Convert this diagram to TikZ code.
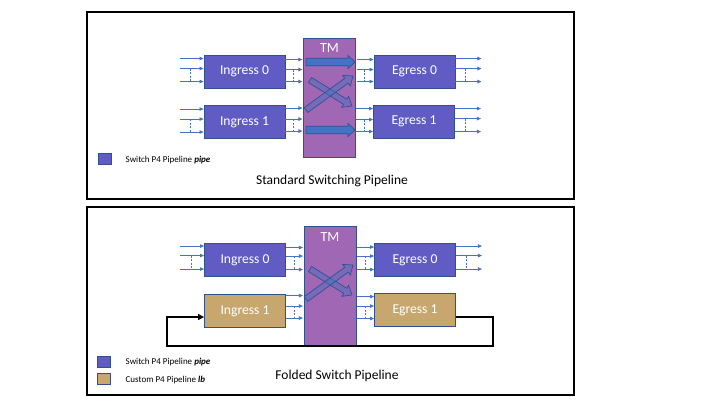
\documentclass[tikz,border=0pt]{standalone}
\usepackage{fontspec}
\setmainfont{Carlito}
\usetikzlibrary{calc,arrows.meta}
\definecolor{pipeblue}{RGB}{96,92,196}
\definecolor{boxborder}{RGB}{47,82,143}
\definecolor{tmpurple}{RGB}{160,103,180}
\definecolor{lbtan}{RGB}{200,167,110}
\definecolor{portblue}{RGB}{68,114,196}

\tikzset{
  pipebox/.style={draw=boxborder, line width=0.9pt, fill=pipeblue, minimum width=81pt, minimum height=33pt, inner sep=0pt, text=white, font=\fontsize{13.6}{15}\selectfont},
  lbbox/.style={pipebox, fill=lbtan},
  tmbox/.style={draw=boxborder, line width=0.9pt, fill=tmpurple, minimum width=52pt, minimum height=119pt, inner sep=0pt},
  panel/.style={draw=black, line width=2pt},
  portarrow/.style={draw=portblue, line width=0.7pt, -{Triangle[length=4pt,width=3.5pt]}},
  portdash/.style={draw=portblue, line width=0.6pt, dash pattern=on 2pt off 1.5pt},
  solidblk/.style={draw=boxborder, line width=0.7pt, fill=portblue},
  hollowblk/.style={draw=boxborder, line width=0.7pt, fill=portblue, fill opacity=0.45},
  loopline/.style={draw=black, line width=1.8pt, -{Triangle[length=6pt,width=6pt]}},
  legendtext/.style={font=\fontsize{9}{10}\selectfont, anchor=west, inner sep=0pt},
  captiontext/.style={font=\fontsize{13.5}{16}\selectfont, inner sep=0pt},
  tmlabel/.style={text=white, font=\fontsize{14}{16}\selectfont, inner sep=0pt},
  swatch/.style={draw=boxborder, line width=0.8pt, minimum width=13.5pt, minimum height=11pt, inner sep=0pt},
}

% inputs ending at the west side of node #1: length #2, dash x offset #3, offsets #4 #5 #6 from top
\newcommand{\portsin}[6]{%
  \foreach \o in {#4,#5,#6} {\draw[portarrow] ($(#1.north west)+(-#2,\o)$) -- ($(#1.north west)+(0,\o)$);}
  \draw[portdash] ($(#1.north west)+(#3,#5)$) -- ($(#1.north west)+(#3,#6)$);
}
% outputs starting at the east side of node #1
\newcommand{\portsout}[6]{%
  \foreach \o in {#4,#5,#6} {\draw[portarrow] ($(#1.north east)+(0,\o)$) -- ($(#1.north east)+(#2,\o)$);}
  \draw[portdash] ($(#1.north east)+(#3,#5)$) -- ($(#1.north east)+(#3,#6)$);
}
% block arrow: #1 style, #2 tail, #3 tip, #4 half shaft, #5 half head, #6 head length
\newcommand{\blockarrow}[6]{%
  \coordinate (ba-c) at ($(#3)!#6!(#2)$);
  \path[#1] ($(#2)!#4!90:(#3)$) -- ($(ba-c)!#4!90:(#3)$) -- ($(ba-c)!#5!90:(#3)$) -- (#3)
    -- ($(ba-c)!#5!-90:(#3)$) -- ($(ba-c)!#4!-90:(#3)$) -- ($(#2)!#4!-90:(#3)$) -- cycle;
}

\begin{document}
\begin{tikzpicture}[x=1pt,y=-1pt]
\useasboundingbox (0,0) rectangle (720,405);
\fill[white] (0,0) rectangle (720,405);

% ---------------- top panel ----------------
\draw[panel] (87,12) rectangle (574,199);

\node[tmbox] (tm) at (329.5,97.5) {};
\node[tmlabel] (tmlab) at (329.5,48.5) {TM};
\node[pipebox] (ing0) at (244.5,71.5) {Ingress 0};
\node[pipebox] (ing1) at (244.5,122) {Ingress 1};
\node[pipebox] (eg0) at (414.5,71.5) {Egress 0};
\node[pipebox] (eg1) at (414,121.5) {Egress 1};

\portsin{ing0}{24}{-13}{4}{14}{27}
\portsout{ing0}{17}{8}{5}{15}{27}
\portsin{eg0}{17}{-9}{5}{15}{27}
\portsout{eg0}{26}{10}{4}{14}{27}
\portsin{ing1}{24}{-13}{4}{14}{27}
\portsout{ing1}{17}{8}{3}{14}{26}
\portsin{eg1}{17}{-9}{4}{15}{27}
\portsout{eg1}{26}{10}{4}{14}{27}

\coordinate (s1a) at (306,62);  \coordinate (s1b) at (355,62);
\coordinate (s2a) at (306,130); \coordinate (s2b) at (355,130);
\coordinate (c1a) at (306,110); \coordinate (c1b) at (353,76);
\coordinate (c2a) at (310,80);  \coordinate (c2b) at (352,106);
\blockarrow{solidblk}{s1a}{s1b}{3.8pt}{6.5pt}{7pt}
\blockarrow{solidblk}{s2a}{s2b}{3.8pt}{6.5pt}{7pt}
\blockarrow{hollowblk}{c2a}{c2b}{3pt}{6.5pt}{8pt}
\blockarrow{hollowblk}{c1a}{c1b}{3pt}{6.5pt}{8pt}

\node[swatch, fill=pipeblue] (sw1) at (105,158.5) {};
\node[legendtext] (lg1) at (125.5,160) {Switch P4 Pipeline \textbf{\textit{pipe}}};
\node[captiontext] (cap1) at (332,181) {Standard Switching Pipeline};

% ---------------- bottom panel ----------------
\draw[panel] (87,207) rectangle (574,395);

\node[tmbox] (tmb) at (330,286) {};
\node[tmlabel] (tmlabb) at (330,237) {TM};
\node[pipebox] (ing0b) at (245,260) {Ingress 0};
\node[lbbox] (ing1b) at (245,311) {Ingress 1};
\node[pipebox] (eg0b) at (415,260) {Egress 0};
\node[lbbox] (eg1b) at (415,310) {Egress 1};

\portsin{ing0b}{24}{-13}{3}{12.5}{26}
\portsout{ing0b}{17}{8}{4.5}{13}{26.5}
\portsin{eg0b}{17}{-9}{4}{13}{26.5}
\portsout{eg0b}{26}{10}{3}{12.5}{26}
\portsout{ing1b}{17}{8}{1.5}{12}{24}
\portsin{eg1b}{17}{-9}{3.5}{13}{25.5}

\coordinate (c3a) at (306,299); \coordinate (c3b) at (353,265);
\coordinate (c4a) at (310,269); \coordinate (c4b) at (352,295);
\blockarrow{hollowblk}{c4a}{c4b}{3pt}{6.5pt}{8pt}
\blockarrow{hollowblk}{c3a}{c3b}{3pt}{6.5pt}{8pt}

\coordinate (loopR) at (493,346);
\coordinate (loopL) at (167,346);
\draw[loopline] ([yshift=-7pt]eg1b.east) -| (loopR) -- (loopL) |- ([yshift=-6pt]ing1b.west);

\node[swatch, fill=pipeblue] (sw2) at (104,362) {};
\node[legendtext] (lg2) at (125.5,362.5) {Switch P4 Pipeline \textbf{\textit{pipe}}};
\node[swatch, fill=lbtan] (sw3) at (104,378.5) {};
\node[legendtext] (lg3) at (125.5,380) {Custom P4 Pipeline \textbf{\textit{lb}}};
\node[captiontext] (cap2) at (337,375.5) {Folded Switch Pipeline};
\end{tikzpicture}
\end{document}
